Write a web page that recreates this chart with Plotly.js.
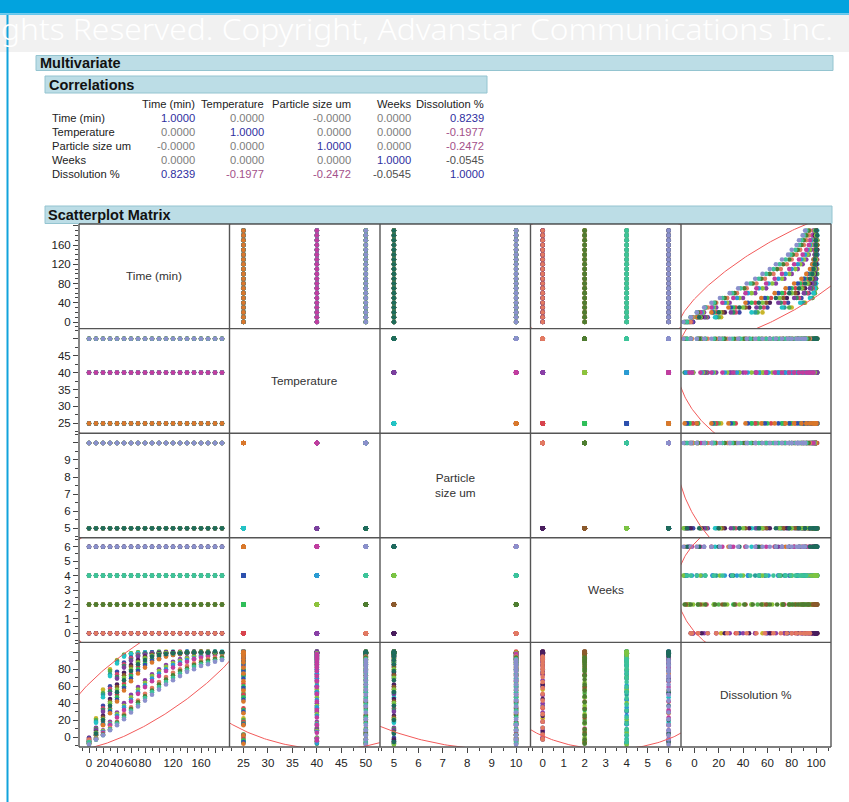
<!DOCTYPE html>
<html><head><meta charset="utf-8">
<script src="https://cdn.plot.ly/plotly-3.0.1.min.js"></script>
<style>
html,body{margin:0;padding:0;background:#fff;}
#wrap{position:relative;width:849px;height:802px;overflow:hidden;}
#chart{position:absolute;left:0;top:0;width:849px;height:802px;}
#wm{position:absolute;left:0;top:0;pointer-events:none;}
</style></head><body>
<div id="wrap"><div id="chart"></div>
<svg id="wm" width="849" height="60"><text x="1" y="40" font-family="Noto Sans, Open Sans, sans-serif" font-weight="300" font-size="29" fill="#ffffff" textLength="832" lengthAdjust="spacingAndGlyphs">ghts Reserved. Copyright, Advanstar Communications Inc.</text></svg>
</div>
<script>
// ---------------- data ----------------
const varNames = ['Time (min)', 'Temperature', 'Particle size um', 'Weeks', 'Dissolution %'];
const diagLabels = ['Time (min)', 'Temperature', 'Particle<br>size um', 'Weeks', 'Dissolution %'];
const times = [0,10,20,30,40,50,60,70,80,90,100,110,120,130,140,150,160,170,180,190];
const temps = [25, 40, 50];
const sizes = [5, 10];
const weeksLv = [0, 2, 4, 6];

// Dissolution % per (Temperature, Particle size, Weeks), one value per time point
const diss_T25_P5_W0  = [-2,22,56,80,91,97,99,100,100,99,100,101,100,99,100,100,101,100,99,100];
const diss_T25_P5_W2  = [-5,20,52,78,90,97,99,100,99,100,101,100,100,99,100,101,100,100,99,100];
const diss_T25_P5_W4  = [-7,18,50,74,89,96,98,99,100,100,99,100,101,100,100,99,100,100,101,100];
const diss_T25_P5_W6  = [-4,17,47,72,87,95,98,99,100,100,100,99,100,100,101,100,99,100,100,101];
const diss_T40_P5_W0  = [-1,11,37,60,77,88,94,97,99,100,100,99,100,100,101,100,100,99,100,100];
const diss_T40_P5_W2  = [-6,10,34,57,74,86,93,97,98,99,100,100,100,101,100,99,100,100,100,99];
const diss_T40_P5_W4  = [-8,9,32,54,71,84,91,96,98,99,100,100,99,100,100,100,101,100,99,100];
const diss_T40_P5_W6  = [-5,8,30,51,69,82,90,95,97,99,99,100,100,100,99,100,100,101,100,100];
const diss_T50_P5_W0  = [-3,6,25,45,62,76,85,91,95,97,99,99,100,100,100,101,100,100,99,100];
const diss_T50_P5_W2  = [-7,5,23,42,59,73,83,89,94,97,98,99,99,100,100,100,101,100,100,100];
const diss_T50_P5_W4  = [-9,5,21,40,56,70,80,88,93,96,98,99,99,100,100,100,100,101,100,99];
const diss_T50_P5_W6  = [-6,4,20,37,53,67,78,86,91,95,97,98,99,99,100,100,100,100,101,100];
const diss_T25_P10_W0 = [-1,3,18,34,50,63,74,83,89,93,96,97,98,99,100,100,100,101,100,100];
const diss_T25_P10_W2 = [-4,3,16,32,47,60,72,80,87,91,95,97,98,99,99,100,100,100,99,100];
const diss_T25_P10_W4 = [-6,2,15,30,44,58,69,78,85,90,93,96,97,98,99,99,100,100,100,100];
const diss_T25_P10_W6 = [-8,2,14,28,42,55,66,75,82,88,92,95,97,98,99,99,100,100,100,100];
const diss_T40_P10_W0 = [-2,-1,8,18,29,40,50,59,67,74,80,85,89,92,94,96,97,98,99,99];
const diss_T40_P10_W2 = [-5,-1,7,16,27,37,47,56,64,72,78,83,87,90,93,95,96,97,98,99];
const diss_T40_P10_W4 = [-7,-2,6,15,25,35,44,53,61,69,75,80,85,88,91,93,95,96,97,98];
const diss_T40_P10_W6 = [-4,-2,5,14,23,32,42,51,59,66,72,78,82,86,89,92,94,95,97,98];
const diss_T50_P10_W0 = [-3,-2,3,11,18,27,35,43,51,58,65,71,76,80,84,87,90,92,94,95];
const diss_T50_P10_W2 = [-8,-3,3,9,17,25,33,41,48,55,62,68,73,78,81,85,88,90,92,94];
const diss_T50_P10_W4 = [-6,-3,2,9,16,23,31,38,46,53,59,65,70,75,79,83,86,88,90,92];
const diss_T50_P10_W6 = [-9,-3,2,8,14,21,29,36,43,50,56,62,67,72,77,80,84,86,89,91];

// correlation table (as printed)
const corrRows = [
  ['1.0000', '0.0000', '-0.0000', '0.0000', '0.8239'],
  ['0.0000', '1.0000', '0.0000', '0.0000', '-0.1977'],
  ['-0.0000', '0.0000', '1.0000', '0.0000', '-0.2472'],
  ['0.0000', '0.0000', '0.0000', '1.0000', '-0.0545'],
  ['0.8239', '-0.1977', '-0.2472', '-0.0545', '1.0000']
];

// ---------------- styles ----------------
const dissSeries = [
  diss_T25_P5_W0, diss_T25_P5_W2, diss_T25_P5_W4, diss_T25_P5_W6,
  diss_T25_P10_W0, diss_T25_P10_W2, diss_T25_P10_W4, diss_T25_P10_W6,
  diss_T40_P5_W0, diss_T40_P5_W2, diss_T40_P5_W4, diss_T40_P5_W6,
  diss_T40_P10_W0, diss_T40_P10_W2, diss_T40_P10_W4, diss_T40_P10_W6,
  diss_T50_P5_W0, diss_T50_P5_W2, diss_T50_P5_W4, diss_T50_P5_W6,
  diss_T50_P10_W0, diss_T50_P10_W2, diss_T50_P10_W4, diss_T50_P10_W6
];
const groupColors = [
  '#c9b52b', '#55b04a', '#2a9d9a', '#23c3c6',
  '#d8434e', '#2fbf5a', '#2d4fae', '#d9782b',
  '#3d47a5', '#d1466f', '#2f8f5f', '#7b3f9e',
  '#8a3fa6', '#8cc43c', '#2a9bd4', '#c13d9f',
  '#4a1e5e', '#8a5a2b', '#7cc443', '#1e6b5c',
  '#e27a62', '#4e7d31', '#3cc39a', '#8b90cc'
];

const NF = '"Liberation Sans", Arial, "DejaVu Sans", sans-serif';
const W = 849, H = 802;
const X = v => v / W, Y = v => 1 - v / H;

// build table
const colTime = [], colTemp = [], colSize = [], colWeeks = [], colDiss = [], colColor = [];
let g = 0;
temps.forEach(T => sizes.forEach(P => weeksLv.forEach(Wk => {
  const d = dissSeries[g];
  times.forEach((t, i) => {
    colTime.push(t); colTemp.push(T); colSize.push(P); colWeeks.push(Wk);
    colDiss.push(d[i]); colColor.push(groupColors[g]);
  });
  g++;
})));
const cols = [colTime, colTemp, colSize, colWeeks, colDiss];

function mean(a) { return a.reduce((s, v) => s + v, 0) / a.length; }
function sdev(a, m) { return Math.sqrt(a.reduce((s, v) => s + (v - m) * (v - m), 0) / (a.length - 1)); }
const means = cols.map(mean);
const sds = cols.map((a, i) => sdev(a, means[i]));
function corr(i, j) {
  const a = cols[i], b = cols[j];
  let s = 0;
  for (let k = 0; k < a.length; k++) s += (a[k] - means[i]) * (b[k] - means[j]);
  return s / (a.length - 1) / (sds[i] * sds[j]);
}

// geometry
const colB = [79, 229.5, 380, 530.5, 681, 831];
const rowB = [224, 328.6, 433.2, 537.8, 642.4, 747];
const xRanges = [[-14.3, 200.7], [22.15, 52.9], [4.43, 10.59], [-0.58, 6.59], [-11, 112.3]];
const yRanges = [[-13.7, 203.7], [22.1, 53], [4.44, 10.57], [-0.63, 6.62], [-11.8, 111.8]];

const axX = j => j === 0 ? 'x' : 'x' + (j + 1);
const axY = i => i === 0 ? 'y' : 'y' + (i + 1);

const traces = [];
const cChi = Math.sqrt(5.991);
for (let i = 0; i < 5; i++) {
  for (let j = 0; j < 5; j++) {
    if (i === j) continue;
    traces.push({
      type: 'scatter', mode: 'markers', x: cols[j], y: cols[i],
      xaxis: axX(j), yaxis: axY(i),
      marker: { color: colColor, size: 4.6, line: { width: 0 } },
      hoverinfo: 'skip', showlegend: false
    });
  }
}
for (let i = 0; i < 5; i++) {
  for (let j = 0; j < 5; j++) {
    if (i === j) continue;
    const r = corr(i, j);
    const ex = [], ey = [];
    for (let s = 0; s <= 360; s++) {
      const th = s * Math.PI / 180;
      ex.push(means[j] + cChi * sds[j] * Math.cos(th));
      ey.push(means[i] + cChi * sds[i] * (r * Math.cos(th) + Math.sqrt(1 - r * r) * Math.sin(th)));
    }
    traces.push({
      type: 'scatter', mode: 'lines', x: ex, y: ey, xaxis: axX(j), yaxis: axY(i),
      line: { color: '#f25a5a', width: 1 }, hoverinfo: 'skip', showlegend: false
    });
  }
}

// ticks
function seq(a, b, st) { const o = []; for (let v = a; v <= b + 1e-9; v += st) o.push(+v.toFixed(4)); return o; }
const xTicks = [
  { vals: seq(0, 180, 20), text: ['0', '20', '40', '60', '80', '', '120', '', '160', ''], minor: seq(-10, 190, 20) },
  { vals: seq(25, 50, 5), text: ['25', '30', '35', '40', '45', '50'], minor: seq(22.5, 52.5, 5) },
  { vals: seq(5, 10, 1), text: ['5', '6', '7', '8', '9', '10'], minor: seq(4.5, 10.5, 1) },
  { vals: seq(0, 6, 1), text: ['0', '1', '2', '3', '4', '5', '6'], minor: seq(-0.5, 6.5, 1) },
  { vals: seq(0, 100, 20), text: ['0', '20', '40', '60', '80', '100'], minor: seq(-10, 110, 20) }
];
const yTicks = [
  { vals: seq(0, 200, 40), text: ['0', '40', '80', '120', '160', ''], minor: seq(-10, 200, 10).filter(v => v % 40 !== 0) },
  { vals: seq(25, 50, 5), text: ['25', '30', '35', '40', '45', ''], minor: seq(22.5, 52.5, 2.5).filter(v => v % 5 !== 0) },
  { vals: seq(5, 10, 1), text: ['5', '6', '7', '8', '9', ''], minor: seq(4.5, 10.5, 1) },
  { vals: seq(0, 6, 1), text: ['0', '1', '2', '3', '4', '5', '6'], minor: seq(-0.5, 6.5, 1) },
  { vals: seq(0, 100, 20), text: ['0', '20', '40', '60', '80', ''], minor: seq(-10, 110, 20) }
];

const layout = {
  width: W, height: H, margin: { l: 0, r: 0, t: 0, b: 0, pad: 0 },
  paper_bgcolor: '#ffffff', plot_bgcolor: 'rgba(0,0,0,0)',
  font: { family: NF, size: 11, color: '#222' },
  showlegend: false, shapes: [], annotations: []
};
const tickFont = { family: NF, size: 11.5, color: '#222' };
for (let j = 0; j < 5; j++) {
  layout['xaxis' + (j ? j + 1 : '')] = {
    domain: [X(colB[j]), X(colB[j + 1])], range: xRanges[j], anchor: 'y5', side: 'bottom',
    showgrid: false, zeroline: false, showline: false, fixedrange: true,
    tickmode: 'array', tickvals: xTicks[j].vals, ticktext: xTicks[j].text, tickangle: 0,
    ticks: 'outside', ticklen: 5, tickwidth: 1, tickcolor: '#444', tickfont: tickFont,
    minor: { tickmode: 'array', tickvals: xTicks[j].minor, ticks: 'outside', ticklen: 3, tickwidth: 1, tickcolor: '#444', showgrid: false }
  };
}
for (let i = 0; i < 5; i++) {
  layout['yaxis' + (i ? i + 1 : '')] = {
    domain: [Y(rowB[i + 1]), Y(rowB[i])], range: yRanges[i], anchor: 'x', side: 'left',
    showgrid: false, zeroline: false, showline: false, fixedrange: true,
    tickmode: 'array', tickvals: yTicks[i].vals, ticktext: yTicks[i].text, tickangle: 0,
    ticks: 'outside', ticklen: 5, tickwidth: 1, tickcolor: '#444', tickfont: tickFont,
    minor: { tickmode: 'array', tickvals: yTicks[i].minor, ticks: 'outside', ticklen: 3, tickwidth: 1, tickcolor: '#444', showgrid: false }
  };
}

function rect(x0, y0, x1, y1, fill, line, lw, layer) {
  layout.shapes.push({ type: 'rect', xref: 'paper', yref: 'paper', x0: X(x0), x1: X(x1), y0: Y(y1), y1: Y(y0),
    fillcolor: fill, line: { color: line || 'rgba(0,0,0,0)', width: lw || 0 }, layer: layer || 'below' });
}
function lineP(x0, y0, x1, y1, color, w) {
  layout.shapes.push({ type: 'line', xref: 'paper', yref: 'paper', x0: X(x0), x1: X(x1), y0: Y(y0), y1: Y(y1),
    line: { color: color, width: w }, layer: 'above' });
}
function txt(x, y, s, opt) {
  layout.annotations.push(Object.assign({ xref: 'paper', yref: 'paper', x: X(x), y: Y(y), text: s, showarrow: false,
    xanchor: 'left', yanchor: 'middle', font: { family: NF, size: 11, color: '#222' }, borderpad: 0 }, opt || {}));
}

// page decoration
rect(0, 14.5, 849, 52, '#f1f1f1');
rect(0, 0, 849, 13.5, '#02a3de');
rect(0, 13.5, 849, 15, '#66c6ec');
rect(6.5, 15, 8.5, 802, '#12a3dc');

// section bars
const barFill = '#bcdde6', barLine = '#94c4d0';
rect(36, 55.5, 833, 70.5, barFill, barLine, 1);
txt(38.5, 63.2, '<b>Multivariate</b>', { font: { family: NF, size: 14.5, color: '#111' } });
rect(45, 76, 487, 93, barFill, barLine, 1);
txt(47.5, 84.8, '<b>Correlations</b>', { font: { family: NF, size: 14.5, color: '#111' } });
rect(45, 206, 832, 223.5, barFill, barLine, 1);
txt(46.5, 214.8, '<b>Scatterplot Matrix</b>', { font: { family: NF, size: 14.5, color: '#111' } });

// correlation table
const colRight = [196, 265, 352, 412, 485];
const rowY = [117.5, 131.6, 145.7, 159.9, 174];
function corrColor(s) {
  const v = parseFloat(s);
  if (v > 0.5) return '#2f2f9f';
  if (v <= -0.1) return '#a3508a';
  if (v < -0.01) return '#4f4f4f';
  return '#7d7d7d';
}
varNames.forEach((nm, j) => txt(colRight[j], 104, nm, { xanchor: 'right', font: { family: NF, size: 11.2, color: '#222' } }));
varNames.forEach((nm, i) => {
  txt(51, rowY[i], nm, { font: { family: NF, size: 11.2, color: '#222' } });
  corrRows[i].forEach((s, j) => txt(colRight[j], rowY[i], s, { xanchor: 'right', font: { family: NF, size: 11.2, color: corrColor(s) } }));
});

// diagonal labels
for (let i = 0; i < 5; i++) {
  txt((colB[i] + colB[i + 1]) / 2, (rowB[i] + rowB[i + 1]) / 2, diagLabels[i],
    { xanchor: 'center', font: { family: NF, size: 11.8, color: '#333' } });
}

// grid frame
const gl = '#555555';
for (const x of colB) lineP(x, rowB[0], x, rowB[5], gl, 1.4);
for (const y of rowB) lineP(colB[0], y, colB[5], y, gl, 1.4);

Plotly.newPlot('chart', traces, layout, { staticPlot: true, displayModeBar: false });
</script>
</body></html>
